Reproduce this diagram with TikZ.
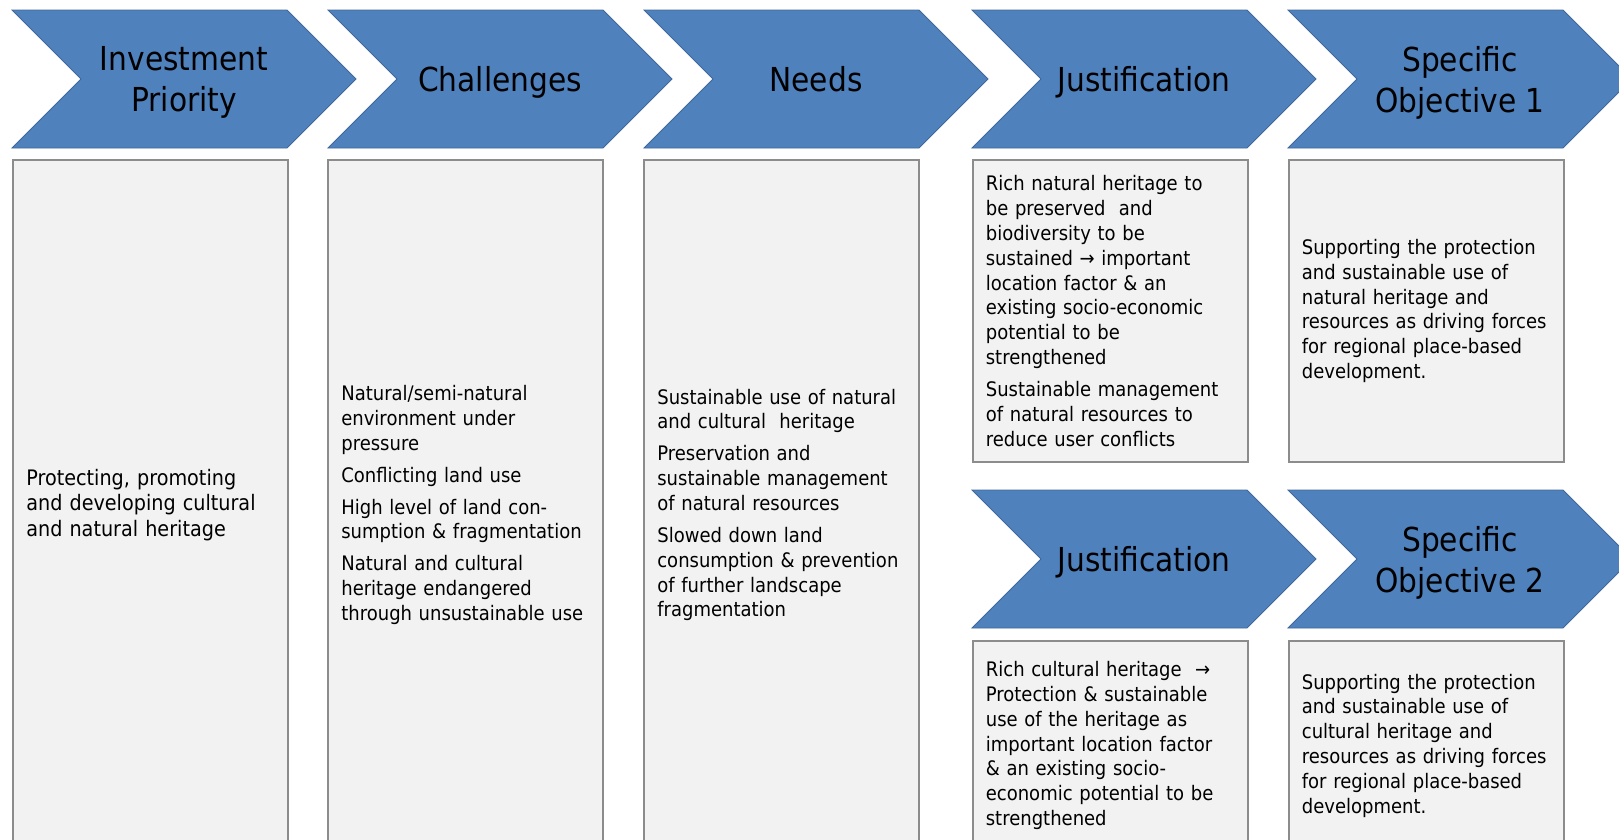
\documentclass[tikz,border=0pt]{standalone}
\usepackage{fontspec}
\setmainfont{DejaVu Sans}[FakeStretch=0.9]
\usetikzlibrary{shapes.symbols}
\definecolor{chevblue}{HTML}{4F81BD}
\definecolor{chevline}{HTML}{40699B}
\definecolor{boxfill}{HTML}{F2F2F2}
\definecolor{boxline}{HTML}{8C8C8C}

\begin{document}
\begin{tikzpicture}[x=0.75pt,y=-0.75pt]
	\tikzstyle{chev}=[signal, signal from=west, signal to=east, signal pointer angle=90, fill=chevblue, draw=chevline, line width=0.6pt, minimum width=258pt, minimum height=103.5pt, inner sep=0pt, text depth=0pt, align=center, font=\fontsize{24.75}{30.75}\selectfont]
	\tikzstyle{box}=[rectangle, fill=boxfill, draw=boxline, line width=1.5pt, minimum width=206.25pt, inner xsep=10pt, text width=186.25pt, align=left, font=\fontsize{15}{18.6}\selectfont]
	\useasboundingbox (0,0) rectangle (1619,839);
	\clip (0,0) rectangle (1619,839);
	% top row
		\node[chev] (ip) at (184,79) {Investment\\Priority};
		\node[chev] (chal) at (500,79) {Challenges};
		\node[chev] (needs) at (816,79) {Needs};
		\node[chev] (just1) at (1144,79) {Justification};
		\node[chev] (so1) at (1460,79) {Specific\\Objective 1};
	% second row
		\node[chev] (just2) at (1144,559) {Justification};
		\node[chev] (so2) at (1460,559) {Specific\\Objective 2};
	% boxes
		\node[box, minimum height=517.5pt, font=\fontsize{16}{19.4}\selectfont] (ipbox) at (150.5,505) {Protecting, promoting\\and developing cultural\\and natural heritage};
		\node[box, minimum height=517.5pt] (chalbox) at (465.5,505) {Natural/semi-natural\\environment under\\pressure\\[5.4pt]Conflicting land use\\[5.4pt]High level of land con-\\sumption \& fragmentation\\[5.4pt]Natural and cultural\\heritage endangered\\through unsustainable use};
		\node[box, minimum height=517.5pt] (needsbox) at (781.5,505) {Sustainable use of natural\\and cultural\ \ heritage\\[5.4pt]Preservation and\\sustainable management\\of natural resources\\[5.4pt]Slowed down land\\consumption \& prevention\\of further landscape\\fragmentation};
		\node[box, minimum height=226.5pt] (just1box) at (1110,311) {Rich natural heritage to\\be preserved\ \ and\\biodiversity to be\\sustained → important\\location factor \& an\\existing socio-economic\\potential to be\\strengthened\\[5.4pt]Sustainable management\\of natural resources to\\reduce user conflicts};
		\node[box, minimum height=226.5pt] (so1box) at (1426,311) {Supporting the protection\\and sustainable use of\\natural heritage and\\resources as driving forces\\for regional place-based\\development.};
		\node[box, minimum height=156.75pt] (just2box) at (1110,745.5) {Rich cultural heritage\ \ →\\Protection \& sustainable\\use of the heritage as\\important location factor\\\& an existing socio-\\economic potential to be\\strengthened};
		\node[box, minimum height=156.75pt] (so2box) at (1426,745.5) {Supporting the protection\\and sustainable use of\\cultural heritage and\\resources as driving forces\\for regional place-based\\development.};
\end{tikzpicture}
\end{document}
